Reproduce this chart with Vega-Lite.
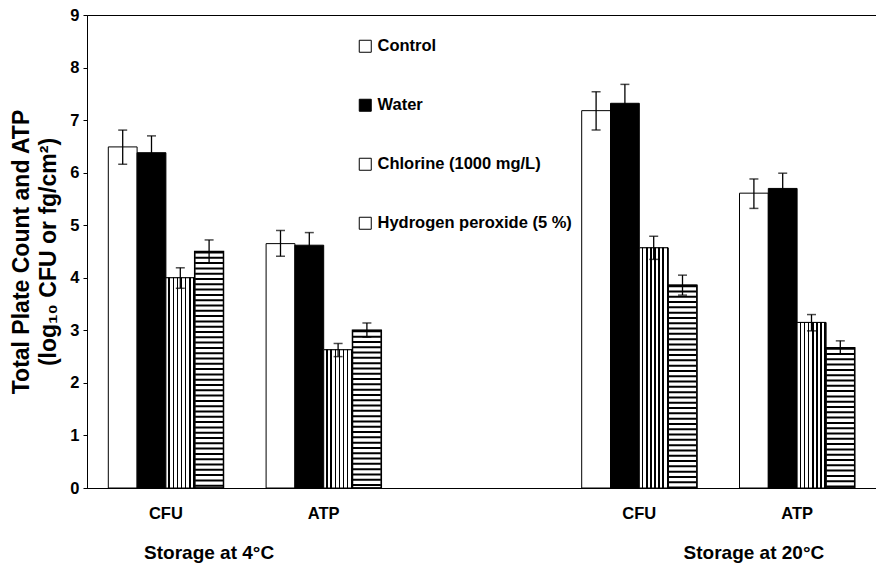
{
  "$schema": "https://vega.github.io/schema/vega-lite/v6.json",
  "width": 789,
  "height": 473,
  "autosize": {"type": "none"},
  "padding": {"left": 87, "top": 15, "right": 0, "bottom": 79},
  "background": "white",
  "config": {
    "font": "Liberation Sans",
    "view": {"stroke": "black", "strokeWidth": 1},
    "axis": {"domainColor": "black", "tickColor": "black", "labelColor": "black", "titleColor": "black", "grid": false}
  },
  "datasets": {
    "bars": [
      {"cat": "4CFU", "t": "Control", "v": 6.49, "lo": 6.16, "hi": 6.81},
      {"cat": "4CFU", "t": "Water", "v": 6.38, "lo": 6.06, "hi": 6.70},
      {"cat": "4CFU", "t": "Chlorine (1000 mg/L)", "v": 4.00, "lo": 3.80, "hi": 4.19},
      {"cat": "4CFU", "t": "Hydrogen peroxide (5 %)", "v": 4.50, "lo": 4.28, "hi": 4.72},
      {"cat": "4ATP", "t": "Control", "v": 4.65, "lo": 4.41, "hi": 4.90},
      {"cat": "4ATP", "t": "Water", "v": 4.62, "lo": 4.38, "hi": 4.86},
      {"cat": "4ATP", "t": "Chlorine (1000 mg/L)", "v": 2.63, "lo": 2.50, "hi": 2.75},
      {"cat": "4ATP", "t": "Hydrogen peroxide (5 %)", "v": 3.00, "lo": 2.87, "hi": 3.14},
      {"cat": "20CFU", "t": "Control", "v": 7.18, "lo": 6.81, "hi": 7.54},
      {"cat": "20CFU", "t": "Water", "v": 7.32, "lo": 6.96, "hi": 7.68},
      {"cat": "20CFU", "t": "Chlorine (1000 mg/L)", "v": 4.57, "lo": 4.35, "hi": 4.79},
      {"cat": "20CFU", "t": "Hydrogen peroxide (5 %)", "v": 3.86, "lo": 3.67, "hi": 4.05},
      {"cat": "20ATP", "t": "Control", "v": 5.61, "lo": 5.32, "hi": 5.88},
      {"cat": "20ATP", "t": "Water", "v": 5.70, "lo": 5.41, "hi": 5.99},
      {"cat": "20ATP", "t": "Chlorine (1000 mg/L)", "v": 3.15, "lo": 2.99, "hi": 3.30},
      {"cat": "20ATP", "t": "Hydrogen peroxide (5 %)", "v": 2.67, "lo": 2.55, "hi": 2.80}
    ],
    "groups": [
      {"cat": "4CFU", "label": "Storage at 4°C"},
      {"cat": "20ATP", "label": "Storage at 20°C"}
    ]
  },
  "layer": [
    {
      "data": {"name": "bars"},
      "mark": {"type": "bar", "stroke": "black", "strokeWidth": 1},
      "encoding": {
        "x": {
          "field": "cat", "type": "nominal",
          "scale": {"domain": ["4CFU", "4ATP", "gap", "20CFU", "20ATP"], "paddingInner": 0.27, "paddingOuter": 0.135},
          "axis": {
            "title": null, "labelAngle": 0, "ticks": false, "labelPadding": 17,
            "labelFontSize": 16.5, "labelFontWeight": "bold",
            "labelExpr": "datum.value === 'gap' ? '' : replace(datum.value, /^[0-9]+/, '')"
          }
        },
        "xOffset": {
          "field": "t", "type": "nominal",
          "scale": {"domain": ["Control", "Water", "Chlorine (1000 mg/L)", "Hydrogen peroxide (5 %)"], "paddingInner": 0}
        },
        "y": {
          "field": "v", "type": "quantitative",
          "scale": {"domain": [0, 9], "nice": false},
          "axis": {
            "title": ["Total Plate Count and ATP", "(log₁₀ CFU or fg/cm²)"],
            "values": [0, 1, 2, 3, 4, 5, 6, 7, 8, 9],
            "labelFontSize": 16.5, "labelFontWeight": "bold", "tickSize": 4, "labelPadding": 4,
            "titleFontSize": 23, "titleFontWeight": "bold", "titlePadding": 9, "titleLineHeight": 27
          }
        },
        "fill": {
          "field": "t", "type": "nominal",
          "scale": {
            "domain": ["Control", "Water", "Chlorine (1000 mg/L)", "Hydrogen peroxide (5 %)"],
            "range": ["white", "black", "white", "white"]
          },
          "legend": {
            "title": null, "orient": "none", "legendX": 270, "legendY": 23, "padding": 0,
            "symbolType": "square", "symbolSize": 144, "symbolStrokeColor": "black", "symbolStrokeWidth": 1,
            "labelFontSize": 16.5, "labelFontWeight": "bold", "labelColor": "black", "labelOffset": 4,
            "rowPadding": 42, "labelLimit": 300
          }
        }
      }
    },
    {
      "data": {"name": "bars"},
      "transform": [{"filter": "datum.t === 'Chlorine (1000 mg/L)'"}],
      "mark": {
        "type": "bar", "stroke": "black", "strokeWidth": 1,
        "fill": {"gradient": "linear", "x1": 0, "y1": 0, "x2": 1, "y2": 0, "stops": [
          {"offset": 0, "color": "white"}, {"offset": 0.09, "color": "white"}, {"offset": 0.09, "color": "black"}, {"offset": 0.1429, "color": "black"},
          {"offset": 0.1429, "color": "white"}, {"offset": 0.2329, "color": "white"}, {"offset": 0.2329, "color": "black"}, {"offset": 0.2857, "color": "black"},
          {"offset": 0.2857, "color": "white"}, {"offset": 0.3757, "color": "white"}, {"offset": 0.3757, "color": "black"}, {"offset": 0.4286, "color": "black"},
          {"offset": 0.4286, "color": "white"}, {"offset": 0.5186, "color": "white"}, {"offset": 0.5186, "color": "black"}, {"offset": 0.5714, "color": "black"},
          {"offset": 0.5714, "color": "white"}, {"offset": 0.6614, "color": "white"}, {"offset": 0.6614, "color": "black"}, {"offset": 0.7143, "color": "black"},
          {"offset": 0.7143, "color": "white"}, {"offset": 0.8043, "color": "white"}, {"offset": 0.8043, "color": "black"}, {"offset": 0.8571, "color": "black"},
          {"offset": 0.8571, "color": "white"}, {"offset": 0.9471, "color": "white"}, {"offset": 0.9471, "color": "black"}, {"offset": 1, "color": "black"}
        ]}
      },
      "encoding": {
        "x": {"field": "cat", "type": "nominal"},
        "xOffset": {"field": "t", "type": "nominal"},
        "y": {"field": "v", "type": "quantitative"}
      }
    },
    {
      "data": {"name": "bars"},
      "transform": [{"filter": "datum.t === 'Hydrogen peroxide (5 %)'"}],
      "mark": {"type": "rule", "color": "black", "strokeWidth": 28, "strokeCap": "butt", "strokeDash": [2, 3.3]},
      "encoding": {
        "x": {"field": "cat", "type": "nominal"},
        "xOffset": {"field": "t", "type": "nominal"},
        "y": {"field": "v", "type": "quantitative"},
        "y2": {"datum": 0}
      }
    },
    {
      "data": {"name": "bars"},
      "transform": [{"filter": "datum.t === 'Hydrogen peroxide (5 %)'"}],
      "mark": {"type": "bar", "fillOpacity": 0, "stroke": "black", "strokeWidth": 1.5},
      "encoding": {
        "x": {"field": "cat", "type": "nominal"},
        "xOffset": {"field": "t", "type": "nominal"},
        "y": {"field": "v", "type": "quantitative"}
      }
    },
    {
      "data": {"name": "bars"},
      "mark": {"type": "rule", "color": "black", "strokeWidth": 1.3},
      "encoding": {
        "x": {"field": "cat", "type": "nominal"},
        "xOffset": {"field": "t", "type": "nominal"},
        "y": {"field": "lo", "type": "quantitative"},
        "y2": {"field": "hi"}
      }
    },
    {
      "data": {"name": "bars"},
      "mark": {"type": "tick", "color": "black", "size": 9, "thickness": 1.5, "orient": "horizontal"},
      "encoding": {
        "x": {"field": "cat", "type": "nominal"},
        "xOffset": {"field": "t", "type": "nominal"},
        "y": {"field": "hi", "type": "quantitative"}
      }
    },
    {
      "data": {"name": "bars"},
      "mark": {"type": "tick", "color": "black", "size": 9, "thickness": 1.5, "orient": "horizontal"},
      "encoding": {
        "x": {"field": "cat", "type": "nominal"},
        "xOffset": {"field": "t", "type": "nominal"},
        "y": {"field": "lo", "type": "quantitative"}
      }
    },
    {
      "data": {"name": "groups"},
      "transform": [{"filter": "datum.cat === '4CFU'"}],
      "mark": {"type": "text", "fontSize": 19, "fontWeight": "bold", "color": "black", "baseline": "middle", "clip": false},
      "encoding": {
        "x": {"field": "cat", "type": "nominal"},
        "xOffset": {"datum": "Hydrogen peroxide (5 %)"},
        "y": {"datum": -1.24, "type": "quantitative"},
        "text": {"field": "label"}
      }
    },
    {
      "data": {"name": "groups"},
      "transform": [{"filter": "datum.cat === '20ATP'"}],
      "mark": {"type": "text", "fontSize": 19, "fontWeight": "bold", "color": "black", "baseline": "middle", "clip": false},
      "encoding": {
        "x": {"field": "cat", "type": "nominal"},
        "xOffset": {"datum": "Control"},
        "y": {"datum": -1.24, "type": "quantitative"},
        "text": {"field": "label"}
      }
    }
  ]
}
